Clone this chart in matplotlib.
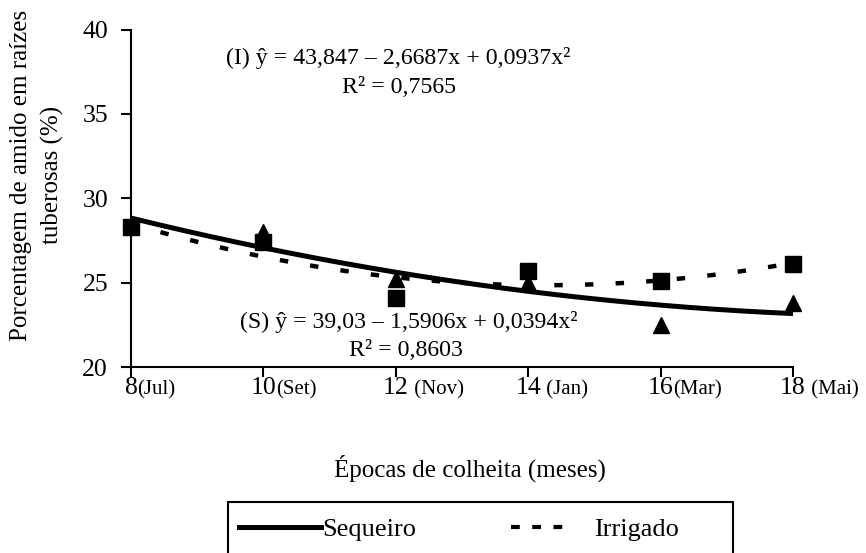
import matplotlib
matplotlib.use("Agg")
import matplotlib.pyplot as plt
import numpy as np
from matplotlib.lines import Line2D
from matplotlib.patches import Rectangle
from matplotlib.font_manager import FontProperties

plt.rcParams['font.family'] = ['Liberation Serif', 'DejaVu Serif']

# Dados
epocas = [8, 10, 12, 14, 16, 18]
meses = ['(Jul)', '(Set)', ' (Nov)', ' (Jan)', '(Mar)', ' (Mai)']
sequeiro = [28.4, 28.0, 25.2, 25.0, 22.5, 23.8]
irrigado = [28.3, 27.4, 24.1, 25.7, 25.1, 26.1]

# Coeficientes das equacoes de regressao mostradas no grafico
coef_seq = [0.0394, -1.5906, 39.03]
coef_irr = [0.0937, -2.6687, 43.847]

W, H = 866, 553
fig = plt.figure(figsize=(W / 100, H / 100), dpi=100)
ax = fig.add_axes([131 / W, 1 - 367 / H, (793 - 131) / W, (367 - 29.5) / H])

x_curva = np.linspace(min(epocas), max(epocas), 200)
ax.plot(x_curva, np.polyval(coef_seq, x_curva), color='black', lw=3.6,
        solid_capstyle='butt', zorder=2, clip_on=False)
ax.plot(x_curva, np.polyval(coef_irr, x_curva), color='black', lw=3.2,
        linestyle=(0, (1.9, 5.0)), zorder=2, clip_on=False)

ax.plot(epocas, sequeiro, linestyle='none', marker='^', markersize=12,
        color='black', zorder=3, clip_on=False)
ax.plot(epocas, irrigado, linestyle='none', marker='s', markersize=11,
        color='black', zorder=4, clip_on=False)

ax.set_xlim(8, 18)
ax.set_ylim(20, 40)
ax.set_xticks(epocas)
ax.set_xticklabels([str(e) for e in epocas])
ax.set_yticks([20, 25, 30, 35, 40])

for lado in ['top', 'right']:
    ax.spines[lado].set_visible(False)
for lado in ['left', 'bottom']:
    ax.spines[lado].set_linewidth(1.5)
ax.tick_params(axis='both', direction='out', length=7.5, width=1.5,
               labelsize=18.5, colors='black')
ax.tick_params(axis='y', pad=9)
ax.tick_params(axis='x', pad=0)

# Equacoes
tam_eq = 17.2
ax.text(12.03, 38.34, '(I) ŷ = 43,847 – 2,6687x + 0,0937x²', fontsize=tam_eq,
        ha='center', va='center')
ax.text(12.05, 36.55, 'R² = 0,7565', fontsize=tam_eq, ha='center', va='center')
ax.text(12.2, 22.67, '(S) ŷ = 39,03 – 1,5906x + 0,0394x²', fontsize=tam_eq,
        ha='center', va='center')
ax.text(12.15, 21.0, 'R² = 0,8603', fontsize=tam_eq, ha='center', va='center')

# Rotulos dos eixos
fig.text(470 / W, 1 - 468 / H, 'Épocas de colheita (meses)', fontsize=18,
         ha='center', va='center')
fig.text(37 / W, 1 - 175 / H, 'Porcentagem de amido em raízes\ntuberosas (%)',
         fontsize=18, rotation=90, ha='center', va='center',
         multialignment='center', linespacing=1.45)

# Meses ao lado dos numeros das epocas
fig.canvas.draw()
renderer = fig.canvas.get_renderer()
fp = FontProperties(family=['Liberation Serif'], size=18.5)
_, _, descida = renderer.get_text_width_height_descent('lp', fp, ismath=False)
for rotulo, mes in zip(ax.get_xticklabels(), meses):
    bb = rotulo.get_window_extent(renderer)
    fig.text(bb.x1 / W, (bb.y0 + descida) / H, mes, fontsize=15,
             ha='left', va='baseline')

# Legenda
alcas = [Line2D([], [], color='black', lw=3.6),
         Line2D([], [], color='black', lw=3,
                linestyle=(0, (2.1, 3.0, 2.1, 3.0, 2.1, 30)))]
fig.legend(alcas, ['Sequeiro', 'Irrigado'], loc='center left',
           bbox_to_anchor=(239 / W, 1 - 529 / H), ncol=2, frameon=False,
           fontsize=19, handlelength=3.1, handletextpad=0.05,
           columnspacing=3.6, borderpad=0, borderaxespad=0)
fig.add_artist(Rectangle((228 / W, -0.05), (733 - 228) / W, 0.05 + 1 - 502 / H,
                         transform=fig.transFigure, fill=False,
                         edgecolor='black', lw=1.5, clip_on=False))

fig.savefig('out.png', dpi=100)
